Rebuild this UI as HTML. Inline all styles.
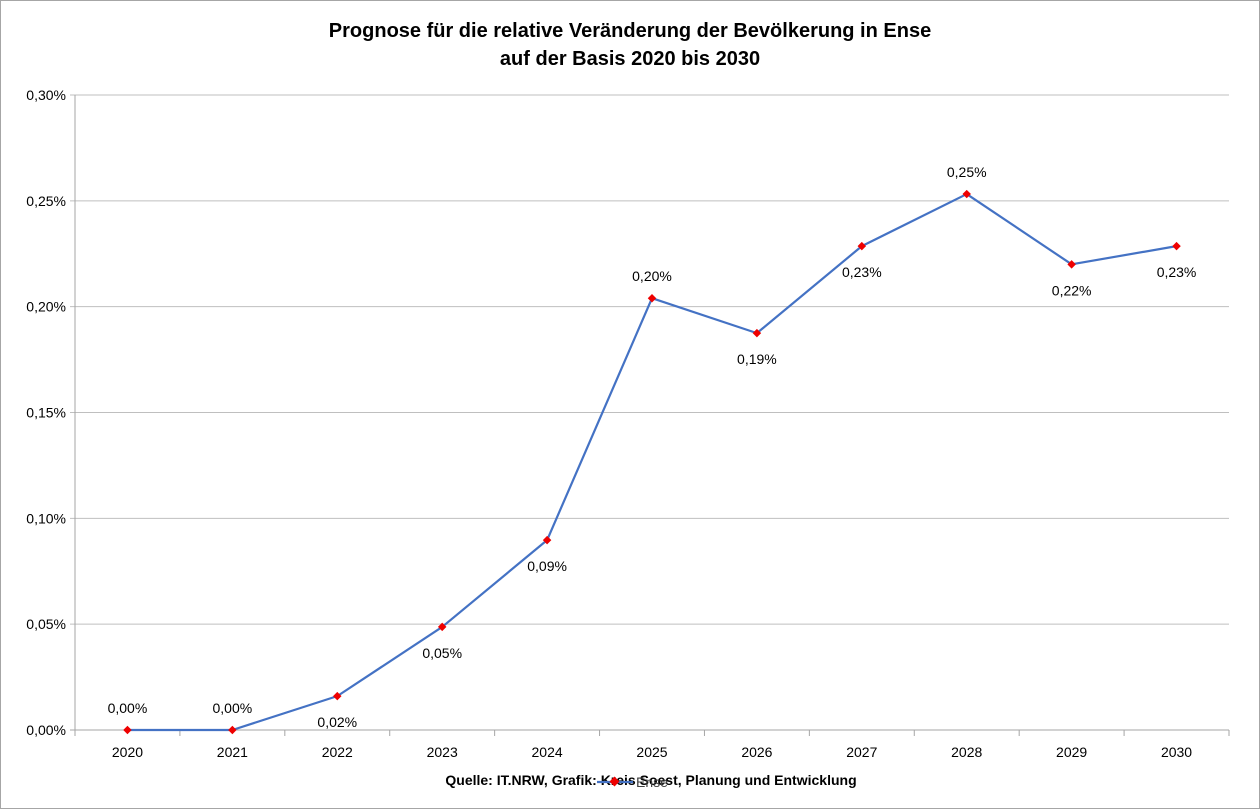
<!DOCTYPE html>
<html><head><meta charset="utf-8"><style>
html,body{margin:0;padding:0;background:#fff}
svg{display:block;font-family:"Liberation Sans",Arial,sans-serif}
</style></head><body>
<svg id="chart" width="1260" height="809" viewBox="0 0 1260 809">
<rect x="0.5" y="0.5" width="1259" height="808" fill="#fff" stroke="#a6a6a6"/>
<text x="630" y="37" text-anchor="middle" font-size="20" font-weight="bold" fill="#000">Prognose für die relative Veränderung der Bevölkerung in Ense</text>
<text x="630" y="65" text-anchor="middle" font-size="20" font-weight="bold" fill="#000">auf der Basis 2020 bis 2030</text>
<g id="grid"></g><g id="axes"></g><g id="series"></g>
<text x="651" y="785" text-anchor="middle" font-size="14" font-weight="bold" fill="#000">Quelle: IT.NRW, Grafik: Kreis Soest, Planung und Entwicklung</text>
<g>
<line x1="597" y1="782" x2="633" y2="782" stroke="#4472c4" stroke-width="2.2"/>
<rect x="611" y="778" width="7" height="7" fill="#e00" transform="rotate(45 614.5 781.5)"/>
<text x="636" y="787" font-size="14" fill="#404040">Ense</text>
</g>
</svg>
<script>
const categories=["2020","2021","2022","2023","2024","2025","2026","2027","2028","2029","2030"];
const values=[0,0,0.016,0.0487,0.0897,0.204,0.1875,0.2286,0.2532,0.220,0.2286];
const valueLabels=["0,00%","0,00%","0,02%","0,05%","0,09%","0,20%","0,19%","0,23%","0,25%","0,22%","0,23%"];
const labelAbove=[true,true,false,false,false,true,false,false,true,false,false];
const yTicks=[0,0.05,0.10,0.15,0.20,0.25,0.30];
const yTickLabels=["0,00%","0,05%","0,10%","0,15%","0,20%","0,25%","0,30%"];
const NS="http://www.w3.org/2000/svg";
const L=75,R=1229,T=95,B=730,yMax=0.30;
const band=(R-L)/categories.length;
const xs=i=>L+band*(i+0.5);
const ys=v=>B-(v/yMax)*(B-T);
function mk(tag,attrs,parent){const e=document.createElementNS(NS,tag);for(const k in attrs)e.setAttribute(k,attrs[k]);parent.appendChild(e);return e;}
const grid=document.getElementById('grid'),axes=document.getElementById('axes'),series=document.getElementById('series');
yTicks.forEach((t,i)=>{
 const y=ys(t);
 const g=mk('line',{x1:L-5,x2:R,y1:y,y2:y,stroke:i===0?'#a6a6a6':'#bfbfbf','stroke-width':1},grid);
 
 
 const tx=mk('text',{x:L-9,y:y+5,'text-anchor':'end','font-size':14,fill:'#000'},axes);
 tx.textContent=yTickLabels[i];
 
 
});
const ya=mk('line',{x1:L,x2:L,y1:T,y2:B,stroke:'#a6a6a6'},axes);


for(let i=0;i<=categories.length;i++){
 const x=L+band*i;
 const tk=mk('line',{x1:x,x2:x,y1:B,y2:B+6,stroke:'#a6a6a6'},axes);
 
 
}
categories.forEach((c,i)=>{
 const tx=mk('text',{x:xs(i),y:B+27,'text-anchor':'middle','font-size':14,fill:'#000'},axes);
 tx.textContent=c;
 
 
});
const pts=values.map((v,i)=>xs(i)+','+ys(v)).join(' ');
const pl=mk('polyline',{points:pts,fill:'none',stroke:'#4472c4','stroke-width':2.2,'stroke-linejoin':'round'},series);


values.forEach((v,i)=>{
 const x=xs(i),y=ys(v);
 const m=mk('rect',{x:x-3,y:y-3,width:6,height:6,fill:'#e00',transform:`rotate(45 ${x} ${y})`},series);
 
 
 const t=mk('text',{x:x,y:labelAbove[i]?y-17:y+31,'text-anchor':'middle','font-size':14,fill:'#000'},series);
 t.textContent=valueLabels[i];
 
 
});
</script>
</body></html>
